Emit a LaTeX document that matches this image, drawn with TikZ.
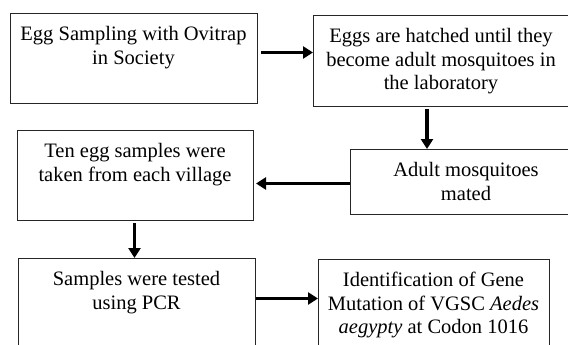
\documentclass[tikz,border=0pt]{standalone}
\usepackage{fontspec}
\setmainfont{Liberation Serif}
\usetikzlibrary{arrows.meta,calc}
\begin{document}
\begin{tikzpicture}[x=1pt,y=-1pt,
  box/.style={draw=black!85, line width=1pt, inner sep=0pt, anchor=north west},
  txt/.style={align=center, inner sep=0pt, anchor=north, font=\fontsize{20.5}{23.6}\selectfont},
  arr/.style={line width=3.5pt, -{Triangle[length=10pt,width=12pt]}}]
\useasboundingbox (0,0) rectangle (568,345);
% boxes
\node[box, minimum width=247pt, minimum height=90pt] (b1) at (10,13) {};
\node[box, minimum width=262pt, minimum height=91pt] (b2) at (313,15) {};
\node[box, minimum width=240pt, minimum height=65pt] (b3) at (350,149) {};
\node[box, minimum width=236pt, minimum height=90pt] (b4) at (17,130) {};
\node[box, minimum width=237pt, minimum height=100pt] (b5) at (18,258) {};
\node[box, minimum width=231pt, minimum height=100pt] (b6) at (318,259) {};
% texts
\node[txt] (t1) at (133.5,26) {Egg Sampling with Ovitrap\\in Society};
\node[txt] (t2) at (441,28) {Eggs are hatched until they\\become adult mosquitoes in\\the laboratory};
\node[txt] (t3) at (466,162) {Adult mosquitoes\\mated};
\node[txt] (t4) at (135,143) {Ten egg samples were\\taken from each village};
\node[txt] (t5) at (136.5,271) {Samples were tested\\using PCR};
\node[txt] (t6) at (433.5,272) {Identification of Gene\\Mutation of VGSC \textit{Aedes}\\\textit{aegypty} at Codon 1016};
% arrows
\draw[arr] ($(b1.east)+(3,-6)$) coordinate (a1) -- (a1 -| b2.west);
\draw[arr] ($(b2.south west)+(114,2)$) coordinate (a2) -- (a2 |- b3.north);
\draw[arr] ($(b3.west)+(0,1.5)$) coordinate (a3) -- ($(a3 -| b4.east)+(2,0)$);
\draw[arr] ($(b4.south)+(-1,2)$) coordinate (a4) -- (a4 |- b5.north);
\draw[arr] ($(b5.east)+(0,-10)$) coordinate (a5) -- (a5 -| b6.west);
\end{tikzpicture}
\end{document}
